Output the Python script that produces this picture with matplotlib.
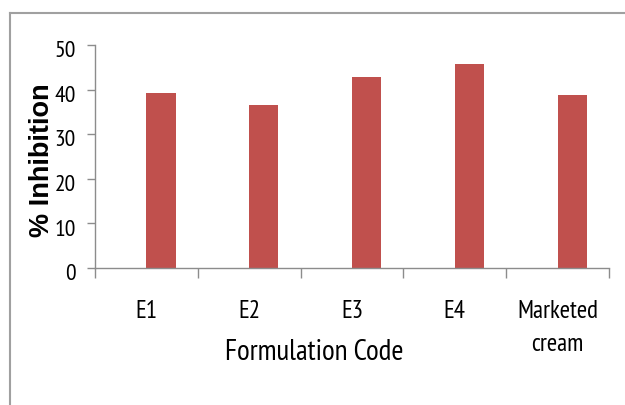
import matplotlib
matplotlib.use("Agg")
import matplotlib.pyplot as plt
import matplotlib.transforms as mtransforms
from matplotlib.lines import Line2D

codes = ["E1", "E2", "E3", "E4", "Marketed\ncream"]
inhibition = [39.2, 36.5, 42.8, 45.7, 38.8]
yticks = [0, 10, 20, 30, 40, 50]

bar_color = "#C0504D"
axis_color = "#8c8c8c"
narrow = ["PT Sans Narrow", "DejaVu Sans"]

fig = plt.figure(figsize=(6.25, 4.05), dpi=100)
ax = fig.add_axes([0.152, 0.3383, 0.8224, 0.5506])

# bars sit in the right half of each category slot
xs = list(range(len(codes)))
ax.bar(xs, inhibition, width=0.285, align="edge", color=bar_color)

ax.set_xlim(-0.5, len(codes) - 0.5)
ax.set_ylim(0, 50)
ax.set_yticks(yticks)
ax.set_yticklabels([str(v) for v in yticks], fontsize=17, family=narrow)

ax.set_xticks(xs)
ax.set_xticklabels(codes, fontsize=18, family=narrow, linespacing=1.55)
ax.set_xticks([i - 0.5 for i in range(len(codes) + 1)], minor=True)
ax.tick_params(axis="x", which="major", length=0, pad=23)
ax.tick_params(axis="x", which="minor", length=7, width=1, color=axis_color)
ax.tick_params(axis="y", length=6, width=1, color=axis_color, pad=8)

# nudge y labels down a touch
shift = mtransforms.ScaledTranslation(0, -3 / 72, fig.dpi_scale_trans)
for lbl in ax.get_yticklabels():
    lbl.set_transform(lbl.get_transform() + shift)

for side in ["top", "right"]:
    ax.spines[side].set_visible(False)
for side in ["left", "bottom"]:
    ax.spines[side].set_color(axis_color)
    ax.spines[side].set_linewidth(1)

fig.text(314 / 625, 1 - 352 / 405, "Formulation Code", fontsize=21,
         family=narrow, ha="center", va="center")
fig.text(42 / 625, 1 - 160 / 405, "% Inhibition", fontsize=19.5,
         family="Liberation Sans", weight="bold", rotation=90,
         ha="center", va="center")

# outer chart frame (top and left edges)
frame_kw = dict(color="#a0a0a0", linewidth=1.5, transform=fig.transFigure)
fig.add_artist(Line2D([10 / 625, 1.0], [1 - 13 / 405, 1 - 13 / 405], **frame_kw))
fig.add_artist(Line2D([10 / 625, 10 / 625], [0.0, 1 - 13 / 405], **frame_kw))

fig.savefig("out.png", dpi=100)
